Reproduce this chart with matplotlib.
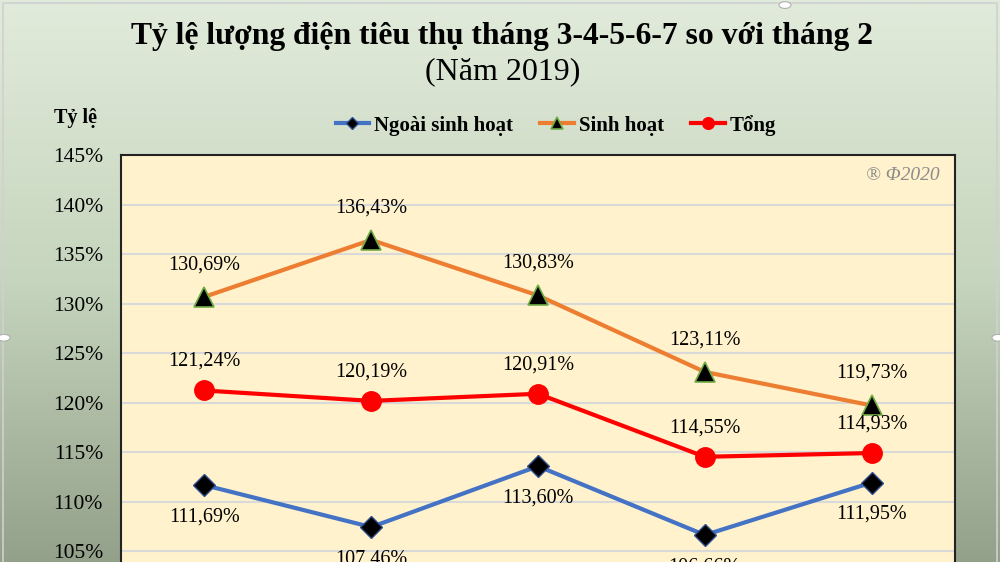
import numpy as np
import matplotlib
matplotlib.use("Agg")
import matplotlib.pyplot as plt
from matplotlib.colors import LinearSegmentedColormap
from matplotlib.patches import Rectangle, Circle

months = ["Tháng 3", "Tháng 4", "Tháng 5", "Tháng 6", "Tháng 7"]
ngoai_sh = [111.69, 107.46, 113.60, 106.66, 111.95]
sinh_hoat = [130.69, 136.43, 130.83, 123.11, 119.73]
tong = [121.24, 120.19, 120.91, 114.55, 114.93]
y_ticks = [100, 105, 110, 115, 120, 125, 130, 135, 140, 145]

SERIF = ["Liberation Serif", "DejaVu Serif"]
plt.rcParams["font.family"] = SERIF


def fmt(v):
    return f"{v:.2f}".replace(".", ",") + "%"


fig = plt.figure(figsize=(10, 5.62), dpi=100)

# background gradient, light at top, darker grey-green at bottom
bg = fig.add_axes([0, 0, 1, 1], zorder=-10)
grad = np.linspace(0, 1, 256).reshape(-1, 1)
cmap = LinearSegmentedColormap.from_list("bg", ["#e1ebdb", "#c6d5bd", "#93a08a"])
bg.imshow(grad, aspect="auto", cmap=cmap, extent=[0, 1, 0, 1], origin="upper")
bg.set_xlim(0, 1)
bg.set_ylim(0, 1)
bg.axis("off")
# selection frame + handles (screenshot artefact)
bg.add_patch(Rectangle((0.003, -0.1), 0.994, 1.094, fill=False, ec="#d0d0d0", lw=1.2))
for cx, cy in [(0.785, 0.991), (0.004, 0.399), (0.998, 0.399)]:
    bg.add_patch(Circle((cx, cy), 0.006, fc="white", ec="#b0b0b0", lw=0.8,
                        transform=bg.transAxes))

ax = fig.add_axes([0.121, -0.0694, 0.834, 0.7936])
ax.set_facecolor("#fff2cc")
x = np.arange(len(months))

ax.plot(x, ngoai_sh, color="#4472c4", lw=3, marker="D", ms=11,
        mfc="black", mec="#2f4f8f", mew=1, label="Ngoài sinh hoạt", zorder=3)
ax.plot(x, sinh_hoat, color="#ed7d31", lw=3, marker="^", ms=14,
        mfc="black", mec="#70ad47", mew=1.2, label="Sinh hoạt", zorder=3)
ax.plot(x, tong, color="#ff0000", lw=3, marker="o", ms=14,
        mfc="#ff0000", mec="#ff0000", label="Tổng", zorder=3)

for xi, v in zip(x, sinh_hoat):
    ax.annotate(fmt(v), (xi, v), xytext=(0, 23), textcoords="offset points",
                ha="center", va="center", fontsize=14.5, zorder=4)
for xi, v in zip(x, tong):
    ax.annotate(fmt(v), (xi, v), xytext=(0, 21), textcoords="offset points",
                ha="center", va="center", fontsize=14.5, zorder=4)
for xi, v in zip(x, ngoai_sh):
    ax.annotate(fmt(v), (xi, v), xytext=(0, -23), textcoords="offset points",
                ha="center", va="center", fontsize=14.5, zorder=4)

ax.set_xlim(-0.5, len(months) - 0.5)
ax.set_ylim(100, 145)
ax.set_yticks(y_ticks)
ax.set_yticklabels([f"{t}%" for t in y_ticks], fontsize=15.5)
ax.set_xticks([])
ax.tick_params(axis="y", length=0, pad=13)
ax.grid(axis="y", color="#d9d9d9", lw=1.5, zorder=0)
ax.set_axisbelow(True)
for s in ax.spines.values():
    s.set_color("#222222")
    s.set_linewidth(1.5)

ax.text(0.982, 0.955, "® Φ2020", transform=ax.transAxes, ha="right", va="center",
        fontsize=14, style="italic", color="#8c8c8c")

fig.text(0.502, 0.935, "Tỷ lệ lượng điện tiêu thụ tháng 3-4-5-6-7 so với tháng 2",
         ha="center", va="center", fontsize=22.8, fontweight="bold")
fig.text(0.503, 0.872, "(Năm 2019)", ha="center", va="center", fontsize=23)
fig.text(0.075, 0.79, "Tỷ lệ", ha="center", va="center", fontsize=14.5, fontweight="bold")

ax.legend(loc="center", bbox_to_anchor=(0.556, 0.777), bbox_transform=fig.transFigure,
          ncol=3, frameon=False, prop={"weight": "bold", "size": 15},
          handlelength=1.6, columnspacing=1.3, handletextpad=0.25, markerscale=0.6)

fig.savefig("out.png", dpi=100)
